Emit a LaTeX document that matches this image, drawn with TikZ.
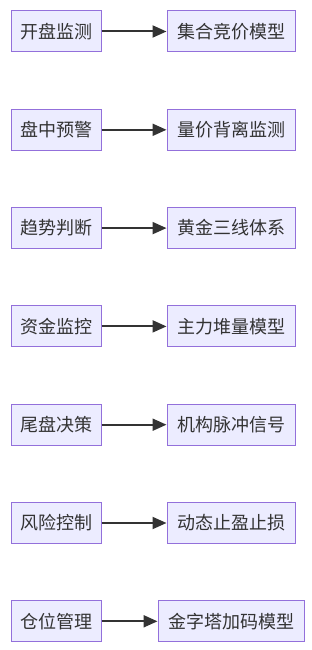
\documentclass[tikz,border=0pt]{standalone}
\usepackage{fontspec}
\setmainfont{Noto Sans CJK SC}
\usetikzlibrary{arrows.meta}
\definecolor{boxfill}{HTML}{ECECFF}
\definecolor{boxdraw}{HTML}{9370DB}
\definecolor{txt}{HTML}{333333}
\begin{document}
\begin{tikzpicture}[x=1pt,y=-1pt,
  box/.style={draw=boxdraw,fill=boxfill,line width=1pt,text=txt,font=\fontsize{18}{20}\selectfont,inner sep=0pt,minimum height=41pt,anchor=center},
  lbox/.style={box,minimum width=90pt},
  conn/.style={draw=txt,line width=2pt,-{Triangle[length=14pt,width=12pt]},shorten >=0pt}]
\useasboundingbox[fill=white] (0,0) rectangle (312,650);
\foreach \i/\a/\b/\w/\cx in {
  1/开盘监测/集合竞价模型/128/231,
  2/盘中预警/量价背离监测/128/231,
  3/趋势判断/黄金三线体系/128/231,
  4/资金监控/主力堆量模型/128/231,
  5/尾盘决策/机构脉冲信号/128/231,
  6/风险控制/动态止盈止损/128/231,
  7/仓位管理/金字塔加码模型/146/231}{
  \pgfmathsetmacro{\yy}{31.5+(\i-1)*98.3}
  \node[lbox] (l\i) at (56,\yy) {\a};
  \node[box,minimum width=\w pt] (r\i) at (\cx,\yy) {\b};
  \draw[conn] (l\i) -- (r\i);
}
\end{tikzpicture}
\end{document}
